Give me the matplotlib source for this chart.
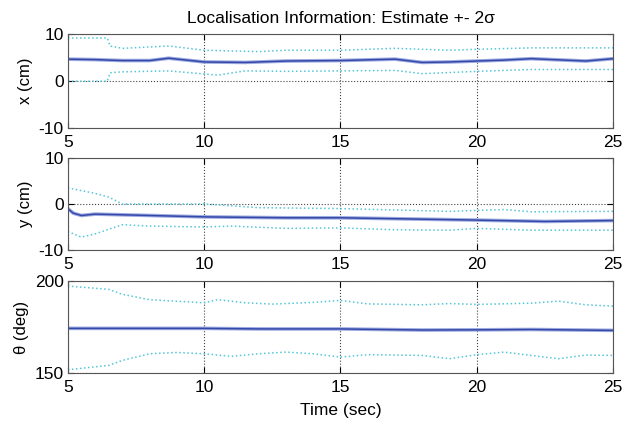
import numpy as np
import matplotlib
matplotlib.use('Agg')
import matplotlib.pyplot as plt
from matplotlib import rcParams

rcParams['font.family'] = ['Liberation Sans', 'DejaVu Sans']
rcParams['font.size'] = 12.5
rcParams['axes.unicode_minus'] = False
rcParams['xtick.direction'] = rcParams['ytick.direction'] = 'in'
rcParams['xtick.top'] = rcParams['ytick.right'] = True
rcParams['axes.linewidth'] = 0.8

# Data.

# x (cm)
x_t     = [5, 6, 7, 8, 8.7, 10, 11.5, 13, 15, 17, 18, 19, 20, 21, 22, 24, 25]
x_est   = [4.7, 4.6, 4.4, 4.4, 4.9, 4.1, 4.0, 4.3, 4.4, 4.7, 4.0, 4.1, 4.3, 4.5, 4.8, 4.3, 4.8]
x_up_t  = [5, 6.45, 6.55, 7, 8.7, 10, 12, 13, 15, 17, 19, 20, 22, 25]
x_up    = [9.2, 9.2, 7.5, 7.0, 7.5, 6.6, 6.3, 6.6, 6.6, 7.0, 6.6, 6.8, 7.1, 7.1]
x_lo_t  = [5, 6.45, 6.55, 7, 8.7, 10.5, 11.5, 13, 15, 17, 18, 20, 22, 25]
x_lo    = [0.0, 0.0, 1.8, 2.0, 2.2, 1.3, 2.2, 2.1, 2.2, 2.3, 1.6, 2.1, 2.5, 2.5]

# y (cm)
y_t     = [5, 5.2, 5.5, 6, 8, 10, 13, 15, 18, 20, 22.5, 25]
y_est   = [-1.0, -2.0, -2.5, -2.2, -2.5, -2.8, -3.0, -3.0, -3.3, -3.5, -3.8, -3.6]
y_up_t  = [5, 6, 6.5, 7, 10, 12, 15, 19, 21, 22, 25]
y_up    = [3.5, 2.3, 1.5, 0.0, 0.0, -0.8, -1.0, -1.6, -1.2, -1.7, -1.6]
y_lo_t  = [5, 5.5, 6, 6.5, 7, 8, 10, 11, 13, 15, 17, 19, 20, 22, 25]
y_lo    = [-6.0, -7.2, -6.5, -5.5, -4.5, -4.8, -5.0, -4.8, -5.3, -5.2, -5.6, -5.7, -5.3, -5.7, -5.7]

# theta (deg)
th_t    = [5, 10, 12, 15, 18, 20, 22, 25]
th_est  = [174.3, 174.3, 174.0, 174.0, 173.4, 173.5, 173.7, 173.2]
th_up_t = [5, 6.5, 7, 8, 10, 10.5, 11.5, 12.5, 14, 15, 16, 18, 19, 20, 22, 23, 24, 25]
th_up   = [197.3, 195.5, 192.8, 189.9, 188.2, 189.9, 188.2, 187.5, 188.4, 189.5, 187.6,
           187.1, 187.8, 187.3, 188.0, 189.1, 187.1, 186.4]
th_lo_t = [5, 6.5, 7, 8, 9, 10, 11, 12, 13, 14, 15, 16, 18, 19, 20, 21, 22, 23, 24, 25]
th_lo   = [151.8, 154.2, 156.9, 160.5, 161.2, 160.5, 159.1, 160.5, 161.4, 160.5, 158.7,
           160.0, 159.6, 157.8, 160.0, 161.4, 159.6, 157.8, 159.8, 159.6]

panels = [
    (x_t, x_est, x_up_t, x_up, x_lo_t, x_lo, 'x (cm)', (-10, 10), [-10, 0, 10]),
    (y_t, y_est, y_up_t, y_up, y_lo_t, y_lo, 'y (cm)', (-10, 10), [-10, 0, 10]),
    (th_t, th_est, th_up_t, th_up, th_lo_t, th_lo, '\u03b8 (deg)', (150, 200), [150, 200]),
]

fig = plt.figure(figsize=(6.34, 4.23), dpi=100)
boxes = [[0.107, 0.697, 0.860, 0.222],
         [0.107, 0.409, 0.860, 0.2175],
         [0.107, 0.118, 0.860, 0.2175]]

for box, (t, est, ut, up, lt, lo, label, ylim, yticks) in zip(boxes, panels):
    ax = fig.add_axes(box)
    ax.plot(ut, up, linestyle=':', color='#55c6d8', linewidth=1.1)
    ax.plot(lt, lo, linestyle=':', color='#55c6d8', linewidth=1.1)
    ax.plot(t, est, color='#9eaae0', linewidth=2.6, solid_capstyle='butt')
    ax.plot(t, est, color='#3349aa', linewidth=1.1)
    ax.set_xlim(5, 25)
    ax.set_ylim(*ylim)
    ax.set_xticks([5, 10, 15, 20, 25])
    ax.set_yticks(yticks)
    ax.set_ylabel(label, labelpad=4, fontsize=12)
    ax.grid(True, color='#444444', linestyle=':', linewidth=0.8)
    ax.tick_params(length=4, width=0.8)
    ax.tick_params(axis='x', pad=5)
    ax.tick_params(axis='y', pad=3)
    for s in ax.spines.values():
        s.set_color('#555555')
    if label.startswith('x'):
        ax.set_title('Localisation Information: Estimate +- 2\u03c3', fontsize=12.5, pad=8)
    if label.startswith('\u03b8'):
        ax.set_xlabel('Time (sec)', fontsize=12.5, labelpad=6)

fig.savefig('out.png', dpi=100)
